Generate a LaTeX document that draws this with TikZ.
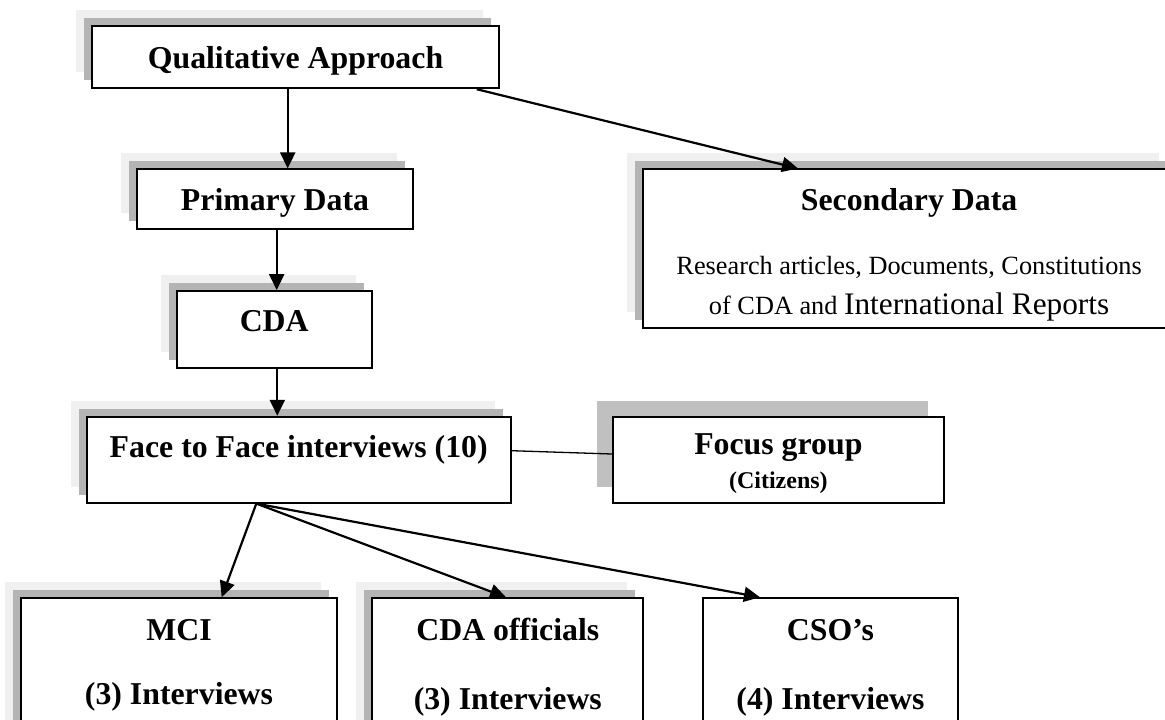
\documentclass[tikz,border=0pt]{standalone}
\usepackage{fontspec}
\setmainfont{Liberation Serif}
\usetikzlibrary{arrows.meta,shadows}
\definecolor{shdark}{RGB}{180,180,180}
\definecolor{shlight}{RGB}{240,240,240}
\definecolor{shfocus}{RGB}{192,192,192}
\begin{document}
\begin{tikzpicture}[x=1pt,y=-1pt,
  box/.style={draw=black, line width=1.8pt, fill=white, rectangle, inner sep=0pt},
  twoshadow/.style={
    general shadow={shadow xshift=-16pt, shadow yshift=16pt, fill=shlight, draw=none},
    general shadow={shadow xshift=-8pt, shadow yshift=8pt, fill=shdark, draw=none}},
  oneshadow/.style={
    general shadow={shadow xshift=-16pt, shadow yshift=16pt, fill=shfocus, draw=none}},
  lbl/.style={inner sep=0pt, anchor=base, font=\bfseries\fontsize{31.8}{36}\selectfont},
  small/.style={inner sep=0pt, anchor=base, font=\fontsize{26.3}{30}\selectfont},
  sublbl/.style={inner sep=0pt, anchor=base, font=\bfseries\fontsize{24}{28}\selectfont},
  arr/.style={line width=2.2pt, -{Triangle[length=16pt,width=15pt]}},
  link/.style={line width=1.3pt}
]
\useasboundingbox (0,0) rectangle (1165,720);
\clip (0,0) rectangle (1165,720);

% boxes
\node[box,twoshadow,minimum width=407.6pt,minimum height=62.3pt] (qual) at (295.5,57.15) {};
\node[box,twoshadow,minimum width=276.6pt,minimum height=60pt] (primary) at (275,199.3) {};
\node[box,twoshadow,minimum width=195pt,minimum height=76.7pt] (cda) at (274.2,329.35) {};
\node[box,twoshadow,minimum width=531.8pt,minimum height=159pt] (secondary) at (909.1,248.8) {};
\node[box,twoshadow,minimum width=424pt,minimum height=86pt] (face) at (298.7,459.7) {};
\node[box,oneshadow,minimum width=331.3pt,minimum height=86.6pt] (focus) at (778.35,460) {};
\node[box,twoshadow,minimum width=316.6pt,minimum height=141.7pt] (mci) at (179,669) {};
\node[box,twoshadow,minimum width=271pt,minimum height=141.7pt] (officials) at (507.8,669) {};
\node[box,minimum width=255pt,minimum height=141.7pt] (cso) at (830.5,669) {};

% connectors
\draw[arr] ([xshift=-7.8]qual.south) -- ([xshift=12.7]primary.north);
\draw[arr] ([xshift=181.2]qual.south) -- ([xshift=-111.1]secondary.north);
\draw[arr] ([xshift=1.7]primary.south) -- ([xshift=2.5]cda.north);
\draw[arr] ([xshift=3.1]cda.south) -- ([xshift=-21.4]face.south |- face.north);
\draw[link] ([yshift=9]face.east) -- ([yshift=6]focus.west);
\draw[arr] ([xshift=-42.4]face.south) -- ([xshift=42.7]mci.north);
\draw[arr] ([xshift=-42.4]face.south) -- ([xshift=-1.8]officials.north);
\draw[arr] ([xshift=-42.4]face.south) -- ([xshift=-70.5]cso.north);

% texts
\node[lbl] (tqual) at (295.5,68.3) {Qualitative Approach};
\node[lbl] (tprimary) at (275,210.7) {Primary Data};
\node[lbl] (tcda) at (274.2,331.7) {CDA};
\node[lbl] (tsecondary) at (909.1,210.7) {Secondary Data};
\node[small] (tsec1) at (909.1,274) {Research articles, Documents, Constitutions};
\node[small] (tsec2) at (909.1,314) {of CDA and {\fontsize{31.3}{36}\selectfont International Reports}};
\node[lbl] (tface) at (298.7,457.3) {Face to Face interviews (10)};
\node[lbl] (tfocus) at (778.35,454) {Focus group};
\node[sublbl] (tcitizens) at (778.35,488) {(Citizens)};
\node[lbl] (tmci) at (179,640) {MCI};
\node[lbl] (tmci2) at (179,704) {(3) Interviews};
\node[lbl] (toff) at (507.8,640) {CDA officials};
\node[lbl] (toff2) at (507.8,709) {(3) Interviews};
\node[lbl] (tcso) at (830.5,640) {CSO’s};
\node[lbl] (tcso2) at (830.5,709) {(4) Interviews};
\end{tikzpicture}
\end{document}
